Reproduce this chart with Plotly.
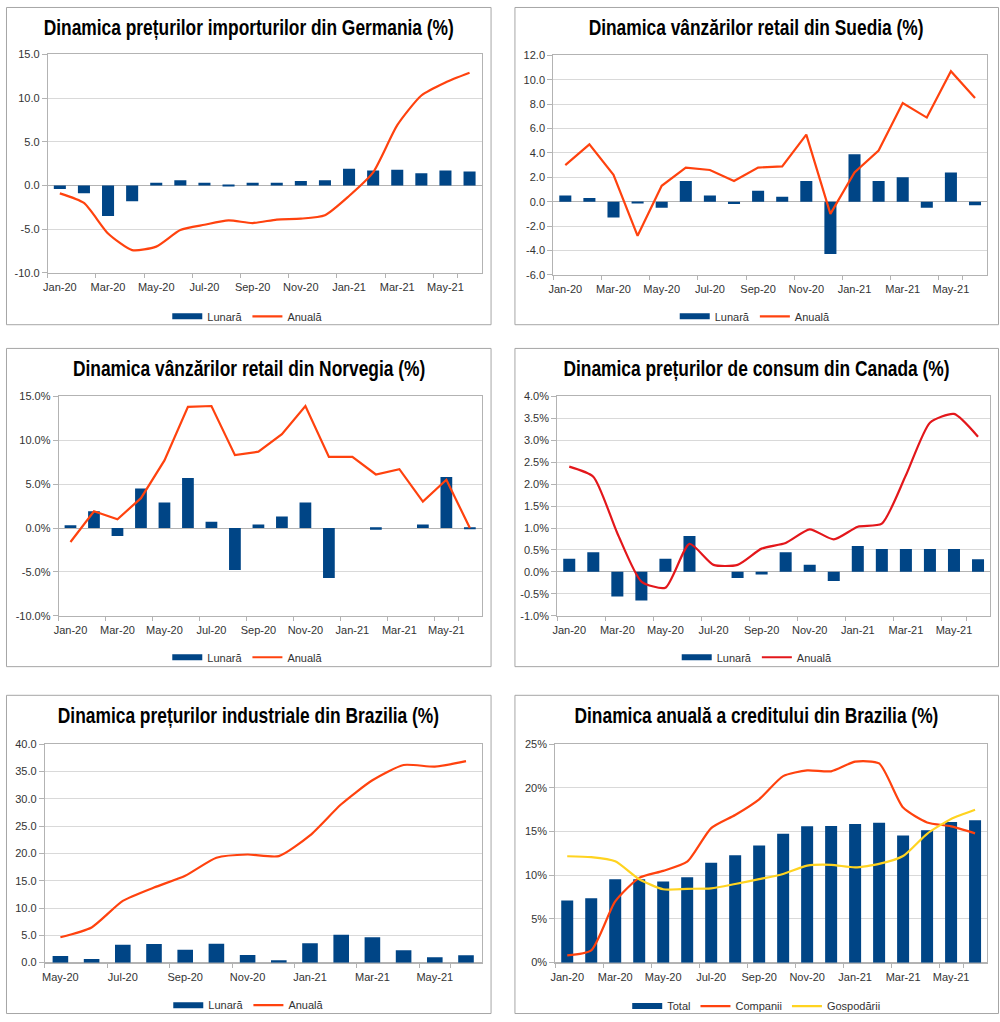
import plotly.graph_objects as go

# ---------------- data ----------------
months18 = ["Jan-20", "Feb-20", "Mar-20", "Apr-20", "May-20", "Jun-20", "Jul-20", "Aug-20", "Sep-20",
            "Oct-20", "Nov-20", "Dec-20", "Jan-21", "Feb-21", "Mar-21", "Apr-21", "May-21", "Jun-21"]
months14 = ["May-20", "Jun-20", "Jul-20", "Aug-20", "Sep-20", "Oct-20", "Nov-20", "Dec-20",
            "Jan-21", "Feb-21", "Mar-21", "Apr-21", "May-21", "Jun-21"]

germania_lunara = [-0.4, -0.9, -3.5, -1.8, 0.3, 0.6, 0.3, 0.1, 0.3, 0.3, 0.5, 0.6, 1.9, 1.7, 1.8, 1.4, 1.7, 1.6]
germania_anuala = [-0.9, -2.0, -5.5, -7.4, -7.0, -5.1, -4.5, -4.0, -4.3, -3.9, -3.8, -3.4, -1.2, 1.5, 6.9, 10.3, 11.8, 12.9]

suedia_lunara = [0.5, 0.3, -1.3, -0.1, -0.5, 1.7, 0.5, -0.2, 0.9, 0.4, 1.7, -4.3, 3.9, 1.7, 2.0, -0.5, 2.4, -0.3]
suedia_anuala = [3.0, 4.7, 2.2, -2.8, 1.3, 2.8, 2.6, 1.7, 2.8, 2.9, 5.5, -1.0, 2.4, 4.2, 8.1, 6.9, 10.7, 8.5]

norvegia_lunara = [0.3, 1.9, -0.9, 4.5, 2.9, 5.7, 0.7, -4.8, 0.4, 1.3, 2.9, -5.7, 0.0, -0.2, 0.0, 0.4, 5.8, -0.1]
norvegia_anuala = [-1.6, 1.9, 1.0, 3.4, 7.7, 13.8, 13.9, 8.3, 8.7, 10.7, 13.9, 8.1, 8.1, 6.1, 6.7, 3.0, 5.5, 0.0]

canada_lunara = [0.30, 0.45, -0.56, -0.65, 0.30, 0.82, 0.0, -0.14, -0.06, 0.45, 0.16, -0.21, 0.59, 0.52, 0.52, 0.52, 0.52, 0.29]
canada_anuala = [2.40, 2.17, 0.88, -0.22, -0.36, 0.64, 0.16, 0.16, 0.53, 0.66, 0.97, 0.74, 1.03, 1.10, 2.20, 3.40, 3.60, 3.08]

brazilia_ind_lunara = [1.2, 0.66, 3.26, 3.4, 2.35, 3.45, 1.4, 0.42, 3.55, 5.1, 4.65, 2.25, 1.0, 1.33]
brazilia_ind_anuala = [4.65, 6.45, 11.3, 13.75, 15.9, 19.2, 19.8, 19.5, 23.3, 29.0, 33.4, 36.2, 35.9, 36.9]

credit_total = [7.1, 7.37, 9.55, 9.55, 9.3, 9.77, 11.43, 12.3, 13.4, 14.74, 15.6, 15.64, 15.86, 16.0, 14.55, 15.15, 16.1, 16.3]
credit_companii = [0.83, 1.4, 7.0, 9.7, 10.5, 11.55, 15.4, 16.9, 18.7, 21.35, 22.0, 21.9, 23.0, 22.8, 17.75, 16.05, 15.6, 14.8]
credit_gospodarii = [12.18, 12.07, 11.6, 9.55, 8.4, 8.45, 8.5, 9.0, 9.55, 10.15, 11.1, 11.2, 10.9, 11.3, 12.2, 14.75, 16.45, 17.5]

titles = [
    "Dinamica prețurilor importurilor din Germania (%)",
    "Dinamica vânzărilor retail din Suedia (%)",
    "Dinamica vânzărilor retail din Norvegia (%)",
    "Dinamica prețurilor de consum din Canada (%)",
    "Dinamica prețurilor industriale din Brazilia (%)",
    "Dinamica anuală a creditului din Brazilia (%)",
]

# y-axis tick values per chart (min, max, step) and label format
ytick_specs = [
    (-10, 15, 5, "{:.1f}"),
    (-6, 12, 2, "{:.1f}"),
    (-10, 15, 5, "{:.1f}%"),
    (-1, 4, 0.5, "{:.1f}%"),
    (0, 40, 5, "{:.1f}"),
    (0, 25, 5, "{:.0f}%"),
]

# ---------------- styling ----------------
W, H = 1000, 1022
BLUE = "#004586"
ORANGE = "#ff420e"
RED = "#e3171b"
YELLOW = "#ffd320"
GRID = "#d9d9d9"
AXIS = "#b3b3b3"
TXT = "#333333"
FONT = "Liberation Sans, Arial, sans-serif"
TFONT = "Liberation Sans, Arial, sans-serif"

# plot areas in pixels: (left, right, top, bottom)
areas = [(43, 479, 49, 270), (551, 987, 50, 272), (54, 479, 395, 617),
         (555, 990, 395, 617), (40, 479, 747, 968), (553, 987, 747, 968)]
title_pos = [(245, 22), (755, 22), (245, 367), (755, 367), (245, 718), (755, 718)]
legend_pos = [(244, 314), (754, 314), (244, 659), (756, 659), (245, 1011), (755, 1012)]
borders = [(1.5, 488.5, 1.5, 322.5), (512.5, 998.5, 1.5, 322.5), (1.5, 488.5, 346.5, 668.5),
           (512.5, 998.5, 346.5, 668.5), (1.5, 488.5, 697.5, 1019.5), (512.5, 998.5, 697.5, 1019.5)]

fig = go.Figure()


def px_x(v):
    return v / W


def px_y(v):
    return 1 - v / H


def add_bar(i, cats, vals, name, color):
    ax = "" if i == 0 else str(i + 1)
    leg = "legend" if i == 0 else "legend%d" % (i + 1)
    fig.add_trace(go.Bar(x=cats, y=vals, name=name, marker_color=color, marker_line_width=0,
                         xaxis="x" + ax, yaxis="y" + ax, showlegend=False, width=0.5))
    # legend swatch as wide flat rectangle
    fig.add_trace(go.Scatter(x=[None], y=[None], mode="lines", name=name,
                             line=dict(color=color, width=6), xaxis="x" + ax, yaxis="y" + ax,
                             legend=leg, showlegend=True))


def add_line(i, cats, vals, name, color, shape="linear"):
    ax = "" if i == 0 else str(i + 1)
    leg = "legend" if i == 0 else "legend%d" % (i + 1)
    fig.add_trace(go.Scatter(x=cats, y=vals, name=name, mode="lines",
                             line=dict(color=color, width=2.2, shape=shape, smoothing=0.6),
                             xaxis="x" + ax, yaxis="y" + ax, legend=leg))


add_bar(0, months18, germania_lunara, "Lunară", BLUE)
add_line(0, months18, germania_anuala, "Anuală", ORANGE, "spline")
add_bar(1, months18, suedia_lunara, "Lunară", BLUE)
add_line(1, months18, suedia_anuala, "Anuală", ORANGE)
add_bar(2, months18, norvegia_lunara, "Lunară", BLUE)
add_line(2, months18, norvegia_anuala, "Anuală", ORANGE)
add_bar(3, months18, canada_lunara, "Lunară", BLUE)
add_line(3, months18, canada_anuala, "Anuală", RED, "spline")
add_bar(4, months14, brazilia_ind_lunara, "Lunară", BLUE)
add_line(4, months14, brazilia_ind_anuala, "Anuală", ORANGE, "spline")
add_bar(5, months18, credit_total, "Total", BLUE)
add_line(5, months18, credit_companii, "Companii", ORANGE, "spline")
add_line(5, months18, credit_gospodarii, "Gospodării", YELLOW, "spline")

layout = dict(
    width=W, height=H, margin=dict(l=0, r=0, t=0, b=0),
    paper_bgcolor="white", plot_bgcolor="white",
    font=dict(family=FONT, size=11, color=TXT),
    showlegend=True, bargap=0.5,
)

shapes = []
annotations = []
cat_lists = [months18, months18, months18, months18, months14, months18]
for i in range(6):
    ax = "" if i == 0 else str(i + 1)
    l, r, t, b = areas[i]
    cats = cat_lists[i]
    layout["xaxis" + ax] = dict(
        domain=[px_x(l), px_x(r)], anchor="y" + ax, type="category",
        categoryorder="array", categoryarray=cats,
        range=[-0.5, len(cats) - 0.5],
        tickmode="array", tickvals=cats[::2], tickangle=0,
        ticks="outside", tickson="boundaries", ticklen=4, tickcolor=AXIS,
        ticklabelstandoff=4,
        showline=True, mirror=True, linecolor=AXIS, linewidth=1,
        showgrid=False, zeroline=False,
        tickfont=dict(family=FONT, size=11, color=TXT),
        fixedrange=True,
    )
    lo, hi, step, fmt = ytick_specs[i]
    n = int(round((hi - lo) / step))
    tv = [lo + k * step for k in range(n + 1)]
    tt = [fmt.format(v) for v in tv]
    layout["yaxis" + ax] = dict(
        domain=[px_y(b), px_y(t)], anchor="x" + ax,
        range=[lo, hi], tickmode="array", tickvals=tv, ticktext=tt,
        ticks="outside", ticklen=5, tickcolor=AXIS,
        showline=True, mirror=True, linecolor=AXIS, linewidth=1,
        showgrid=True, gridcolor=GRID, gridwidth=1,
        zeroline=True, zerolinecolor=AXIS, zerolinewidth=1,
        tickfont=dict(family=FONT, size=11, color=TXT),
        fixedrange=True,
    )
    leg = "legend" if i == 0 else "legend%d" % (i + 1)
    lx, ly = legend_pos[i]
    layout[leg] = dict(
        x=px_x(lx), y=px_y(ly), xanchor="center", yanchor="middle", orientation="h",
        bgcolor="rgba(0,0,0,0)", font=dict(family=FONT, size=11, color=TXT),
        itemwidth=30, tracegroupgap=0,
    )
    bx0, bx1, by0, by1 = borders[i]
    shapes.append(dict(type="rect", xref="paper", yref="paper",
                       x0=px_x(bx0), x1=px_x(bx1), y0=px_y(by1), y1=px_y(by0),
                       line=dict(color="#a6a6a6", width=1), fillcolor="rgba(0,0,0,0)", layer="below"))
    tx, ty = title_pos[i]
    annotations.append(dict(text="<b>%s</b>" % titles[i], xref="paper", yref="paper",
                            x=px_x(tx), y=px_y(ty), xanchor="center", yanchor="middle",
                            showarrow=False, font=dict(family=TFONT, size=22, color="#000000")))

layout["shapes"] = shapes
layout["annotations"] = annotations
fig.update_layout(**layout)

post = """
(function(){
  var s = document.createElement('style');
  s.textContent = 'html,body{margin:0!important;padding:0!important;overflow:hidden!important;}' +
    ' .annotation-text{transform-box:fill-box;transform-origin:center;transform:scaleX(0.79);}';
  document.head.appendChild(s);
})();
"""

fig.write_html("out.html", post_script=post, config={"displayModeBar": False})
